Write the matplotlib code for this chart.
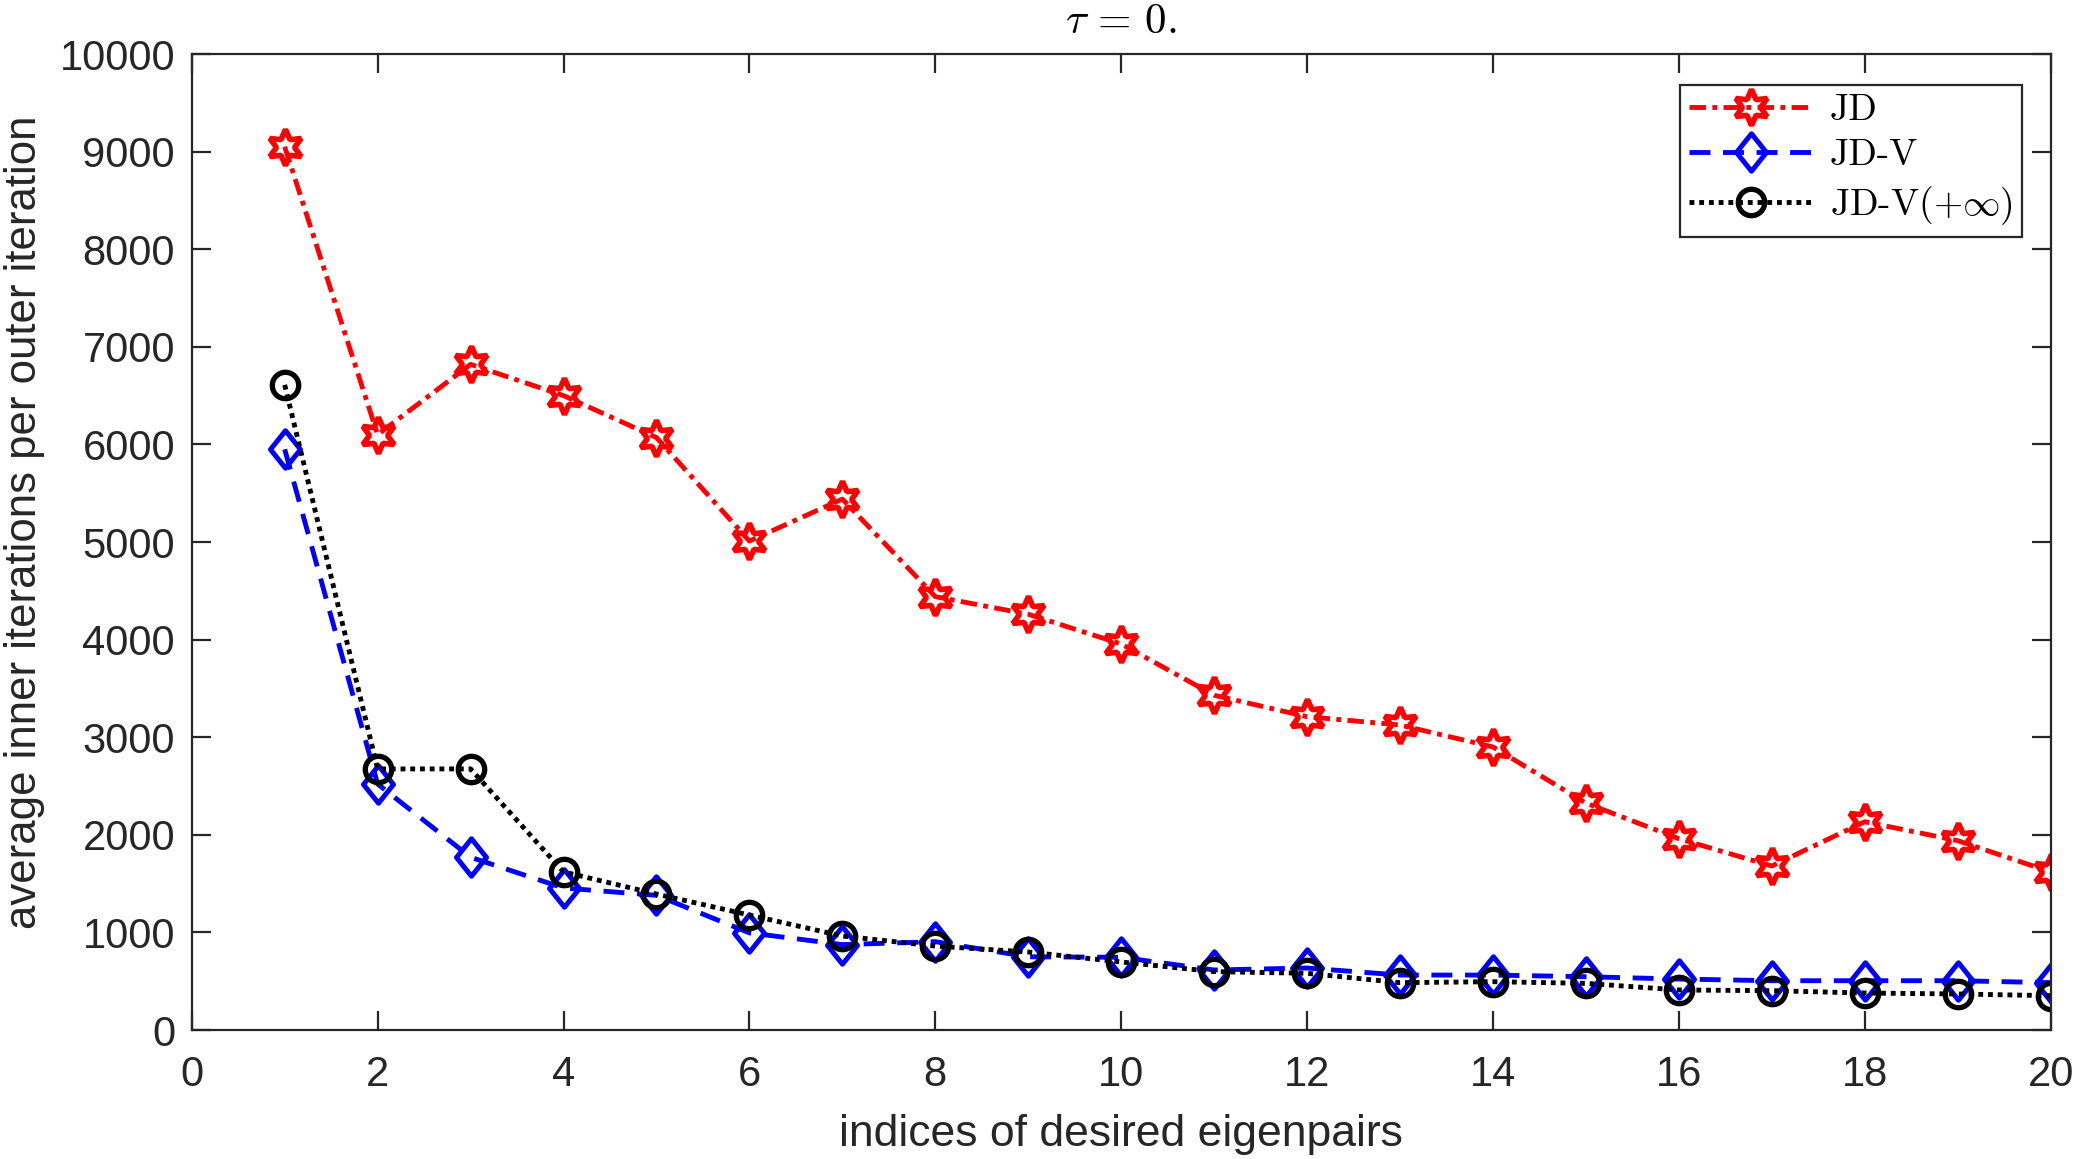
import numpy as np
import matplotlib
matplotlib.use("Agg")
import matplotlib.pyplot as plt
from matplotlib.path import Path

# data
idx = list(range(1, 21))
jd = [9050, 6100, 6820, 6500, 6070, 5010, 5440, 4440, 4260, 3955,
      3430, 3210, 3125, 2900, 2325, 1960, 1680, 2134, 1940, 1620]
jd_v = [5950, 2520, 1770, 1455, 1380, 995, 875, 905, 750, 745,
        615, 635, 563, 563, 546, 522, 505, 505, 505, 485]
jd_v_inf = [6610, 2675, 2675, 1620, 1393, 1178, 963, 860, 799, 697,
            598, 581, 485, 495, 478, 410, 403, 379, 369, 352]

plt.rcParams["font.family"] = ["Liberation Sans", "DejaVu Sans"]
plt.rcParams["mathtext.fontset"] = "cm"

axis_col = "#262626"

fig = plt.figure(figsize=(20.73, 11.59), dpi=100)
ax = fig.add_axes([0.0925, 0.1113, 0.8967, 0.8421])

# tall diamond like MATLAB's
diamond = Path([(0, -1), (0.8, 0), (0, 1), (-0.8, 0), (0, -1)],
               [Path.MOVETO, Path.LINETO, Path.LINETO, Path.LINETO, Path.CLOSEPOLY])

ax.plot(idx, jd, color="red", linestyle=(0, (3.4, 1.3, 1, 1.3)), linewidth=3.5,
        marker=(6, 1, 0), markersize=26, markerfacecolor="none",
        markeredgewidth=4, label="JD")
ax.plot(idx, jd_v, color="blue", linestyle=(0, (4.3, 2.6)), linewidth=3.5,
        marker=diamond, markersize=27, markerfacecolor="none",
        markeredgewidth=3.6, label="JD-V")
ax.plot(idx, jd_v_inf, color="black", linestyle=(0, (1, 1)), linewidth=3.5,
        marker="o", markersize=19, markerfacecolor="none",
        markeredgewidth=3.8, label=r"JD-V$(+\infty)$")

ax.set_xlim(0, 20)
ax.set_ylim(0, 10000)
ax.set_xticks(range(0, 21, 2))
ax.set_yticks(range(0, 10001, 1000))

for s in ax.spines.values():
    s.set_color(axis_col)
    s.set_linewidth(1.6)
ax.tick_params(direction="in", length=14, width=1.6, colors=axis_col,
               labelsize=30, top=True, right=True)
ax.tick_params(axis="x", pad=18)
ax.tick_params(axis="y", pad=12)
for lab in ax.get_xticklabels() + ax.get_yticklabels():
    lab.set_color(axis_col)

ax.set_xlabel("indices of desired eigenpairs", fontsize=32, color=axis_col, labelpad=14)
ax.set_ylabel("average inner iterations per outer iteration", fontsize=31.5,
              color=axis_col)
ax.yaxis.set_label_coords(-0.079, 0.52)
ax.set_title(r"$\tau\,=\,0.$", fontsize=31, pad=15)

leg = ax.legend(loc="upper right", bbox_to_anchor=(0.9996, 0.9975),
                prop={"family": ["cmr10", "DejaVu Serif"], "size": 27},
                handlelength=3.3, handletextpad=0.45, borderpad=0.25,
                labelspacing=0.32, fancybox=False, framealpha=1,
                edgecolor=axis_col, borderaxespad=0.75)
leg.get_frame().set_linewidth(1.6)

fig.savefig("out.png", dpi=100)
